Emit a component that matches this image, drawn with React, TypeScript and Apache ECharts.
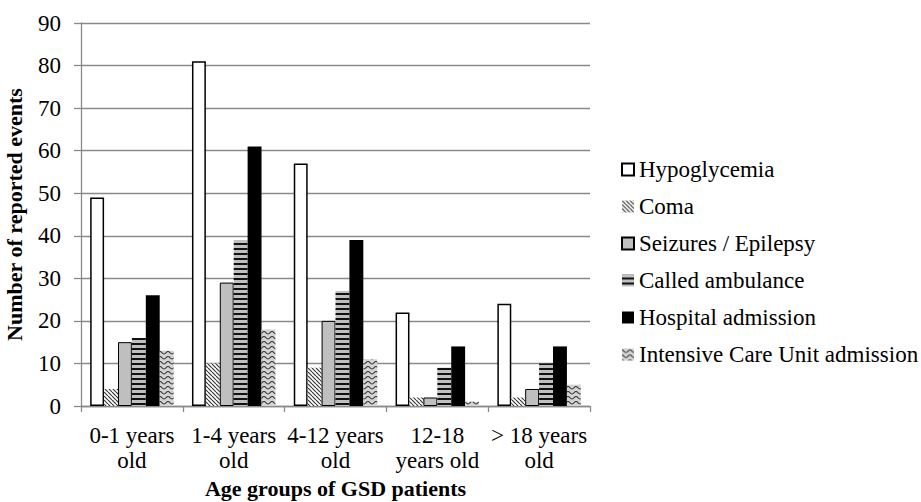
import React, { useEffect, useRef } from 'react';
import * as echarts from 'echarts';

const categories = ['0-1 years\nold', '1-4 years\nold', '4-12 years\nold', '12-18\nyears old', '> 18 years\nold'];
const seriesNames = ['Hypoglycemia', 'Coma', 'Seizures / Epilepsy', 'Called ambulance', 'Hospital admission', 'Intensive Care Unit admission'];
const hypoglycemia = [49, 81, 57, 22, 24];
const coma = [4, 10, 9, 2, 2];
const seizures = [15, 29, 20, 2, 4];
const ambulance = [16, 39, 27, 9, 10];
const hospital = [26, 61, 39, 14, 14];
const icu = [13, 18, 11, 1, 5];
const yMin = 0;
const yMax = 90;
const yStep = 10;

const FONT = 'Liberation Serif';
const FS = 23;

function makePattern(w: number, h: number, draw: (ctx: CanvasRenderingContext2D) => void) {
  const c = document.createElement('canvas');
  c.width = w;
  c.height = h;
  const ctx = c.getContext('2d') as CanvasRenderingContext2D;
  draw(ctx);
  return { image: c, repeat: 'repeat', imageWidth: w, imageHeight: h } as any;
}

export default function App() {
  const ref = useRef<HTMLDivElement>(null);
  useEffect(() => {
    if (!ref.current) return;
    const chart = echarts.init(ref.current, undefined, { renderer: 'svg' });

    const comaPat = makePattern(4, 4, (ctx) => {
      ctx.fillStyle = '#ffffff';
      ctx.fillRect(0, 0, 4, 4);
      ctx.strokeStyle = '#3a3a3a';
      ctx.lineWidth = 1.2;
      for (const k of [-4, 0, 4]) {
        ctx.beginPath();
        ctx.moveTo(k, 0);
        ctx.lineTo(k + 4, 4);
        ctx.stroke();
      }
    });
    const ambPat = makePattern(6, 5, (ctx) => {
      ctx.fillStyle = '#c0c0c0';
      ctx.fillRect(0, 0, 6, 5);
      ctx.fillStyle = '#111111';
      ctx.fillRect(0, 3, 6, 2);
    });
    const icuPat = makePattern(8, 5, (ctx) => {
      ctx.fillStyle = '#d4d4d4';
      ctx.fillRect(0, 0, 8, 5);
      ctx.strokeStyle = '#333333';
      ctx.lineWidth = 1.2;
      ctx.beginPath();
      ctx.moveTo(0, 1.5);
      ctx.bezierCurveTo(2, 1.5, 2, 4, 4, 4);
      ctx.bezierCurveTo(6, 4, 6, 1.5, 8, 1.5);
      ctx.stroke();
    });

    const styles: any[] = [
      { color: '#ffffff', borderColor: '#000000', borderWidth: 1.5 },
      { color: comaPat },
      { color: '#bfbfbf', borderColor: '#000000', borderWidth: 1 },
      { color: ambPat },
      { color: '#000000' },
      { color: icuPat },
    ];
    const datasets = [hypoglycemia, coma, seizures, ambulance, hospital, icu];

    chart.setOption({
      animation: false,
      backgroundColor: '#ffffff',
      textStyle: { fontFamily: FONT },
      grid: { left: 81, right: 331, top: 23, bottom: 96, containLabel: false, outerBoundsMode: 'none' },
      legend: {
        orient: 'vertical',
        left: 616,
        top: 153,
        itemWidth: 12,
        itemHeight: 12,
        itemGap: 14,
        icon: 'rect',
        data: seriesNames,
        textStyle: { fontFamily: FONT, fontSize: FS, color: '#000', lineHeight: 23 },
      },
      xAxis: {
        type: 'category',
        data: categories,
        name: 'Age groups of GSD patients',
        nameLocation: 'middle',
        nameGap: 70,
        nameTextStyle: { fontFamily: FONT, fontSize: 22, fontWeight: 'bold', color: '#000', verticalAlign: 'top' },
        axisLine: { lineStyle: { color: '#8a8a8a', width: 1.3 } },
        axisTick: { show: true, length: 6, lineStyle: { color: '#8a8a8a', width: 1.3 } },
        axisLabel: { fontFamily: FONT, fontSize: FS, color: '#000', margin: 17, lineHeight: 25, interval: 0 },
      },
      yAxis: {
        type: 'value',
        min: yMin,
        max: yMax,
        interval: yStep,
        name: 'Number of reported events',
        nameLocation: 'middle',
        nameGap: 56,
        nameTextStyle: { fontFamily: FONT, fontSize: 22, fontWeight: 'bold', color: '#000' },
        axisLine: { show: true, lineStyle: { color: '#8a8a8a', width: 1.3 } },
        axisTick: { show: true, length: 7, lineStyle: { color: '#8a8a8a', width: 1.3 } },
        axisLabel: { fontFamily: FONT, fontSize: FS, color: '#000', margin: 20 },
        splitLine: { show: true, lineStyle: { color: '#8a8a8a', width: 1.3 } },
      },
      series: datasets.map((d, i) => ({
        type: 'bar',
        name: seriesNames[i],
        data: d,
        barGap: '0%',
        barCategoryGap: '18%',
        itemStyle: styles[i],
        emphasis: { disabled: true },
      })),
    });
    return () => chart.dispose();
  }, []);
  return <div ref={ref} style={{ position: 'fixed', left: 0, top: 0, width: 921, height: 502 }} />;
}
